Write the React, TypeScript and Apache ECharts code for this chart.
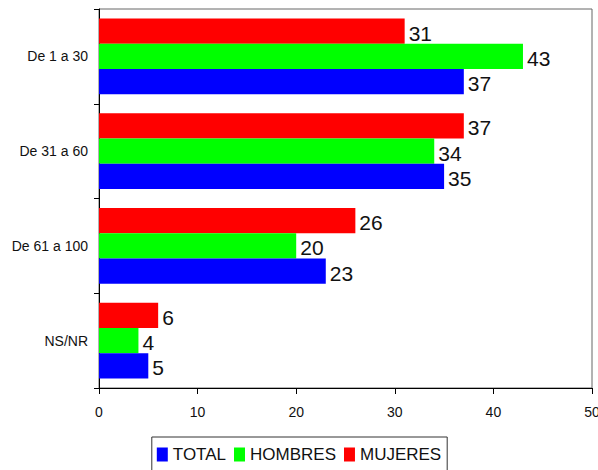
import React, { useEffect, useRef } from "react";
import * as echarts from "echarts";

const categories = ["De 1 a 30", "De 31 a 60", "De 61 a 100", "NS/NR"];
const totalValues = [37, 35, 23, 5];
const hombresValues = [43, 34, 20, 4];
const mujeresValues = [31, 37, 26, 6];
const xTicks = { min: 0, max: 50, interval: 10 };

const FONT = "'Liberation Sans', Arial, sans-serif";

export default function App() {
  const ref = useRef<HTMLDivElement>(null);
  useEffect(() => {
    if (!ref.current) return;
    const chart = echarts.init(ref.current, undefined, { renderer: "svg" });
    const rev = <T,>(a: T[]) => a.slice().reverse();
    const label = {
      show: true,
      position: "right" as const,
      distance: 4,
      offset: [0, 2],
      fontFamily: FONT,
      fontSize: 21,
      color: "#111",
    };
    const common = { type: "bar", barGap: "0%", barCategoryGap: "20%", label };
    chart.setOption({
      animation: false,
      backgroundColor: "#fff",
      textStyle: { fontFamily: FONT },
      grid: {
        left: 99,
        right: 6,
        top: 9,
        bottom: 82,
        outerBoundsMode: "none",
        containLabel: false,
        show: true,
        borderColor: "#666",
        borderWidth: 1,
      },
      legend: {
        data: ["TOTAL", "HOMBRES", "MUJERES"],
        left: "center",
        top: 437,
        padding: [9, 6, 9, 5],
        itemGap: 8,
        itemWidth: 11,
        itemHeight: 14,
        icon: "rect",
        borderColor: "#333",
        borderWidth: 1,
        borderRadius: 0,
        textStyle: { fontFamily: FONT, fontSize: 17, color: "#111" },
      },
      xAxis: {
        type: "value",
        min: xTicks.min,
        max: xTicks.max,
        interval: xTicks.interval,
        splitLine: { show: false },
        axisLine: { show: true, lineStyle: { color: "#000", width: 1 } },
        axisTick: { show: true, length: 6, lineStyle: { color: "#000" } },
        axisLabel: { margin: 17, fontFamily: FONT, fontSize: 14, color: "#111" },
      },
      yAxis: {
        type: "category",
        data: rev(categories),
        axisLine: { show: true, lineStyle: { color: "#000", width: 1 } },
        axisTick: { show: true, length: 5, alignWithLabel: false, lineStyle: { color: "#000" } },
        axisLabel: { margin: 11, fontFamily: FONT, fontSize: 14, color: "#111" },
      },
      series: [
        { ...common, name: "MUJERES", data: rev(mujeresValues), itemStyle: { color: "#FF0000" } },
        { ...common, name: "HOMBRES", data: rev(hombresValues), itemStyle: { color: "#00FF00" } },
        { ...common, name: "TOTAL", data: rev(totalValues), itemStyle: { color: "#0000FF" } },
      ],
    });
    return () => chart.dispose();
  }, []);
  return (
    <div
      ref={ref}
      style={{ position: "fixed", left: 0, top: 0, width: 598, height: 470 }}
    />
  );
}
